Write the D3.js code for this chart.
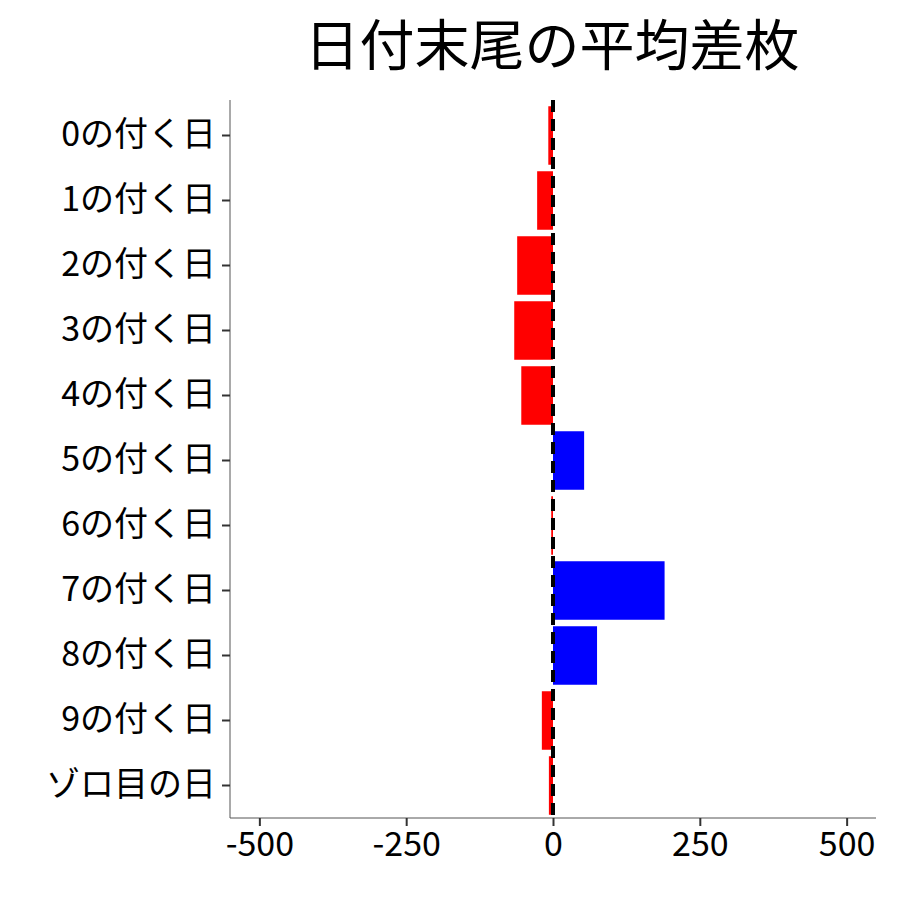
<!DOCTYPE html>
<html><head><meta charset="utf-8">
<script src="https://cdn.jsdelivr.net/npm/d3@7"></script>
<style>body{margin:0;background:#fff}</style></head>
<body><svg id="c" width="900" height="900"></svg>
<script>
const categories=["0の付く日","1の付く日","2の付く日","3の付く日","4の付く日","5の付く日","6の付く日","7の付く日","8の付く日","9の付く日","ゾロ目の日"];
const values=[-8,-27,-61,-66,-54,53,-3,190,75,-19,-7];
const xTicks=[-500,-250,0,250,500];
const font="'Noto Sans CJK JP', sans-serif";
const svg=d3.select("#c");
const L=230,R=876,T=103,B=818;
const x=d3.scaleLinear().domain([-550,550]).range([L,R]);
const y=d3.scaleBand().domain(categories).range([T,B]).paddingInner(0.1).paddingOuter(0.05);
svg.append("text").attr("x",552).attr("y",65).attr("text-anchor","middle")
 .style("font-family",font).style("font-size","55px").text("日付末尾の平均差枚");
svg.selectAll("rect.b").data(values).enter().append("rect")
 .attr("x",d=>x(Math.min(0,d))).attr("width",d=>Math.abs(x(d)-x(0)))
 .attr("y",(d,i)=>y(categories[i])).attr("height",y.bandwidth())
 .attr("fill",d=>d<0?"#ff0000":"#0000ff");
svg.append("line").attr("x1",x(0)).attr("x2",x(0)).attr("y1",T-3).attr("y2",B)
 .attr("stroke","#000").attr("stroke-width",4).attr("stroke-dasharray","12,7");
const ya=svg.append("g").attr("transform",`translate(${L},0)`).call(d3.axisLeft(y).tickSize(8).tickPadding(6));
const xa=svg.append("g").attr("transform",`translate(0,${B})`).call(d3.axisBottom(x).tickValues(xTicks).tickFormat(d=>String(d)).tickSize(8).tickPadding(6));
[ya,xa].forEach(a=>{a.select(".domain").attr("stroke","#555");
 a.selectAll(".tick line").attr("stroke","#333").attr("stroke-width",2);
 a.selectAll("text").style("font-family",font).style("font-size","34px").attr("fill","#000");});
ya.select(".domain").attr("d",`M0,${T-3}V${B}`);
xa.select(".domain").attr("d",`M${L},0H${R}`);
</script></body></html>
